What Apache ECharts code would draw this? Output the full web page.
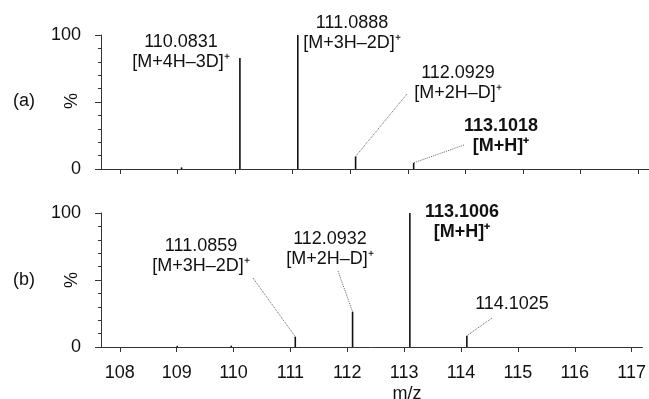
<!DOCTYPE html>
<html>
<head>
<meta charset="utf-8">
<script src="https://cdn.jsdelivr.net/npm/echarts@6/dist/echarts.min.js"></script>
<style>
  html, body { margin: 0; padding: 0; background: #fff; }
  #chart { width: 649px; height: 399px; }
</style>
</head>
<body>
<div id="chart"></div>
<script>
  // tick labels on the m/z axis
  const mzTicks = [108, 109, 110, 111, 112, 113, 114, 115, 116, 117];

  // panel (a): peak m/z and relative intensity (%)
  const mzA = [109.07, 110.0831, 111.0888, 112.0929, 113.1018];
  const intA = [1.2, 82.8, 100, 9.4, 4.6];

  // panel (b)
  const mzB = [109.01, 109.96, 111.0859, 112.0932, 113.1006, 114.1025];
  const intB = [0.8, 1.0, 7.7, 26.3, 100, 8.4];

  // annotated peaks (index into the arrays above) and their texts
  const peakNoteA = [1, 2, 3, 4];
  const massTextA = ['110.0831', '111.0888', '112.0929', '113.1018'];
  const ionTextA = ['[M+4H–3D]⁺', '[M+3H–2D]⁺', '[M+2H–D]⁺', '[M+H]⁺'];

  const peakNoteB = [2, 3, 4, 5];
  const massTextB = ['111.0859', '112.0932', '113.1006', '114.1025'];
  const ionTextB = ['[M+3H–2D]⁺', '[M+2H–D]⁺', '[M+H]⁺', ''];

  // where the texts sit (px) and where the dotted leader starts (null = none)
  const layoutA = [
    { x: 181, y: 52, bold: false, lead: null },
    { x: 352, y: 33, bold: false, lead: null },
    { x: 458, y: 83, bold: false, lead: [407, 94] },
    { x: 501, y: 136, bold: true, lead: [464, 145] }
  ];
  const layoutB = [
    { x: 201, y: 256, bold: false, lead: [253, 278] },
    { x: 330, y: 249, bold: false, lead: [338, 271] },
    { x: 462, y: 222, bold: true, lead: null },
    { x: 512, y: 304, bold: false, lead: [492, 318] }
  ];

  const FONT = 'Liberation Sans, Arial, sans-serif';
  const AXIS_COLOR = '#333';
  const TEXT_COLOR = '#111';

  const chart = echarts.init(document.getElementById('chart'));

  function xAxisOf(gridIndex, showLabels) {
    return {
      type: 'value',
      gridIndex: gridIndex,
      min: 107.67,
      max: 117.19,
      axisLine: { lineStyle: { color: AXIS_COLOR, width: 1 } },
      axisTick: { show: true, length: 5, customValues: mzTicks, lineStyle: { color: AXIS_COLOR } },
      axisLabel: {
        show: showLabels,
        customValues: mzTicks,
        margin: 17,
        fontFamily: FONT,
        fontSize: 18,
        color: TEXT_COLOR
      },
      splitLine: { show: false }
    };
  }

  function yAxisOf(gridIndex) {
    return {
      type: 'value',
      gridIndex: gridIndex,
      min: 0,
      max: 100,
      interval: 50,
      axisLine: { show: true, lineStyle: { color: AXIS_COLOR, width: 1 } },
      axisTick: { show: true, length: 6, lineStyle: { color: AXIS_COLOR } },
      minorTick: { show: true, splitNumber: 5, length: 3, lineStyle: { color: AXIS_COLOR } },
      axisLabel: {
        margin: 20,
        fontFamily: FONT,
        fontSize: 18,
        color: TEXT_COLOR,
        formatter: function (v) { return v === 50 ? '' : String(v); }
      },
      splitLine: { show: false }
    };
  }

  function peakSeries(idx, mz, inten, notes, layout) {
    const leaders = [];
    layout.forEach(function (l, i) {
      if (!l.lead) return;
      const p = notes[i];
      leaders.push([{ x: l.lead[0], y: l.lead[1] }, { coord: [mz[p], inten[p]] }]);
    });
    return {
      type: 'bar',
      xAxisIndex: idx,
      yAxisIndex: idx,
      barWidth: 1.6,
      itemStyle: { color: '#111' },
      data: mz.map(function (m, i) { return [m, inten[i]]; }),
      markLine: {
        silent: true,
        symbol: ['none', 'none'],
        label: { show: false },
        lineStyle: { type: 'dotted', color: '#666', width: 1 },
        data: leaders
      }
    };
  }

  function plainText(txt, x, y, rotation) {
    return {
      type: 'text', x: x, y: y, rotation: rotation || 0,
      style: { text: txt, align: 'center', verticalAlign: 'middle', fontFamily: FONT, fontSize: 18, fill: TEXT_COLOR }
    };
  }

  function noteTexts(massText, ionText, layout) {
    return layout.map(function (l, i) {
      const txt = ionText[i] ? massText[i] + '\n' + ionText[i] : massText[i];
      return {
        type: 'text',
        x: l.x,
        y: l.y,
        style: {
          text: txt,
          align: 'center',
          verticalAlign: 'middle',
          fontFamily: FONT,
          fontSize: 18,
          fontWeight: l.bold ? 'bold' : 'normal',
          lineHeight: 20,
          fill: TEXT_COLOR
        }
      };
    });
  }

  chart.setOption({
    animation: false,
    backgroundColor: '#fff',
    grid: [
      { left: 101, right: 0, top: 35, height: 134 },
      { left: 101, right: 0, top: 213, height: 134 }
    ],
    xAxis: [xAxisOf(0, false), xAxisOf(1, true)],
    yAxis: [yAxisOf(0), yAxisOf(1)],
    series: [
      peakSeries(0, mzA, intA, peakNoteA, layoutA),
      peakSeries(1, mzB, intB, peakNoteB, layoutB)
    ],
    graphic: []
      .concat(noteTexts(massTextA, ionTextA, layoutA))
      .concat(noteTexts(massTextB, ionTextB, layoutB))
      .concat([
        plainText('(a)', 24, 101),
        plainText('(b)', 24, 280),
        plainText('%', 72, 101, Math.PI / 2),
        plainText('%', 72, 280, Math.PI / 2),
        plainText('m/z', 407, 394)
      ])
  });
</script>
</body>
</html>
